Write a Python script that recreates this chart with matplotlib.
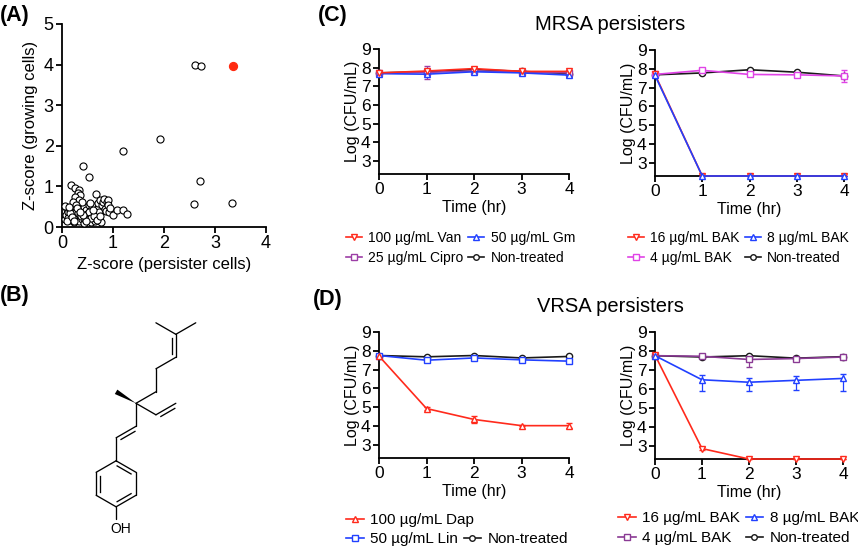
import matplotlib
matplotlib.use('Agg')
import matplotlib.pyplot as plt
import numpy as np
from matplotlib.lines import Line2D
from matplotlib.patches import Polygon

plt.rcParams['font.family'] = ['Liberation Sans', 'DejaVu Sans']

# ---------------- DATA ----------------
# Panel A: Z-scores
cluster_x = [0.05, 0.08, 0.10, 0.12, 0.14, 0.06, 0.15, 0.18, 0.20, 0.22,
             0.24, 0.25, 0.27, 0.28, 0.30, 0.32, 0.33, 0.35, 0.36, 0.38,
             0.40, 0.41, 0.43, 0.44, 0.46, 0.47, 0.49, 0.50, 0.52, 0.53,
             0.55, 0.56, 0.58, 0.59, 0.61, 0.62, 0.64, 0.65, 0.66, 0.68,
             0.70, 0.71, 0.73, 0.75, 0.76, 0.78, 0.80, 0.82, 0.84, 0.86,
             0.88, 0.90, 0.91, 0.93, 0.95, 1.00, 1.07, 1.20, 1.28,
             0.18, 0.26, 0.34, 0.31, 0.36, 0.66, 0.26, 0.34, 0.40, 0.22,
             0.28, 0.12, 0.16, 0.09, 0.20, 0.30, 0.38, 0.45, 0.52, 0.57,
             0.62, 0.68, 0.74, 0.60, 0.48, 0.42, 0.35, 0.23, 0.14, 0.55,
             0.41, 0.53, 1.20, 1.92, 2.60, 2.72, 2.71, 2.58, 3.34]
cluster_y = [0.20, 0.30, 0.45, 0.38, 0.25, 0.52, 0.42, 0.18, 0.33, 0.48,
             0.12, 0.28, 0.40, 0.58, 0.22, 0.35, 0.15, 0.45, 0.30, 0.62,
             0.20, 0.38, 0.50, 0.10, 0.28, 0.42, 0.33, 0.18, 0.55, 0.25,
             0.40, 0.12, 0.30, 0.48, 0.22, 0.38, 0.15, 0.52, 0.30, 0.44,
             0.58, 0.20, 0.36, 0.66, 0.12, 0.54, 0.62, 0.68, 0.45, 0.40,
             0.62, 0.66, 0.54, 0.38, 0.48, 0.30, 0.42, 0.43, 0.33,
             1.03, 0.97, 0.92, 0.83, 0.79, 0.82, 0.74, 0.66, 0.62, 0.62,
             0.55, 0.22, 0.35, 0.15, 0.25, 0.48, 0.28, 0.20, 0.36, 0.22,
             0.28, 0.18, 0.26, 0.42, 0.14, 0.30, 0.38, 0.15, 0.50, 0.60,
             1.50, 1.24, 1.88, 2.17, 3.98, 3.96, 1.13, 0.57, 0.58]
hit_x = [3.36]
hit_y = [3.97]

time = [0, 1, 2, 3, 4]

# Panel C left (MRSA)
mrsa_L_labels = ['100 µg/mL Van', '50 µg/mL Gm', '25 µg/mL Cipro', 'Non-treated']
mrsa_L_van = [7.72, 7.82, 7.95, 7.80, 7.80]
mrsa_L_gm = [7.68, 7.65, 7.78, 7.72, 7.60]
mrsa_L_cipro = [7.70, 7.75, 7.82, 7.78, 7.72]
mrsa_L_nt = [7.72, 7.78, 7.90, 7.80, 7.68]
mrsa_L_van_err = [0.04, 0.06, 0.06, 0.04, 0.05]
mrsa_L_gm_err = [0.03, 0.08, 0.04, 0.04, 0.12]
mrsa_L_cipro_err = [0.03, 0.35, 0.08, 0.05, 0.10]
mrsa_L_nt_err = [0.03, 0.05, 0.05, 0.04, 0.20]

# Panel C right (MRSA, BAK)
mrsa_R_labels = ['16 µg/mL BAK', '8 µg/mL BAK', '4 µg/mL BAK', 'Non-treated']
mrsa_R_16 = [7.70, 2.30, 2.30, 2.30, 2.30]
mrsa_R_8 = [7.65, 2.30, 2.30, 2.30, 2.30]
mrsa_R_4 = [7.70, 7.92, 7.70, 7.68, 7.62]
mrsa_R_nt = [7.68, 7.78, 7.95, 7.82, 7.62]
mrsa_R_4_err = [0.04, 0.06, 0.06, 0.05, 0.30]
mrsa_R_nt_err = [0.03, 0.05, 0.05, 0.04, 0.08]

# Panel D left (VRSA)
vrsa_L_labels = ['100 µg/mL Dap', '50 µg/mL Lin', 'Non-treated']
vrsa_L_dap = [7.72, 4.93, 4.35, 4.02, 4.02]
vrsa_L_lin = [7.75, 7.50, 7.62, 7.52, 7.45]
vrsa_L_nt = [7.75, 7.68, 7.75, 7.62, 7.70]
vrsa_L_dap_lo = [0.05, 0.08, 0.20, 0.04, 0.14]
vrsa_L_dap_hi = [0.05, 0.08, 0.20, 0.04, 0.12]
vrsa_L_lin_err = [0.04, 0.05, 0.05, 0.05, 0.05]
vrsa_L_nt_err = [0.03, 0.04, 0.04, 0.04, 0.04]

# Panel D right (VRSA, BAK)
vrsa_R_labels = ['16 µg/mL BAK', '8 µg/mL BAK', '4 µg/mL BAK', 'Non-treated']
vrsa_R_16 = [7.78, 2.85, 2.30, 2.30, 2.30]
vrsa_R_8 = [7.75, 6.48, 6.35, 6.45, 6.55]
vrsa_R_4 = [7.75, 7.72, 7.55, 7.60, 7.68]
vrsa_R_nt = [7.75, 7.68, 7.75, 7.62, 7.70]
vrsa_R_8_lo = [0.03, 0.58, 0.45, 0.50, 0.65]
vrsa_R_8_hi = [0.03, 0.25, 0.23, 0.25, 0.25]
vrsa_R_4_lo = [0.03, 0.05, 0.42, 0.06, 0.05]
vrsa_R_4_hi = [0.03, 0.05, 0.20, 0.06, 0.05]
vrsa_R_16_err = [0.03, 0.06, 0.0, 0.0, 0.0]
vrsa_R_nt_err = [0.03, 0.04, 0.04, 0.04, 0.04]

x_ticks = [0, 1, 2, 3, 4]
y_ticks = [3, 4, 5, 6, 7, 8, 9]

RED = '#ff2a1c'
BLUE = '#2140ff'
PURPLE = '#9c3ea6'
MAGENTA = '#e043e6'
DPURPLE = '#8a3a94'
BLACK = '#1a1a1a'

# ---------------- FIGURE ----------------
W, H = 858, 551
fig = plt.figure(figsize=(W / 100, H / 100), dpi=100)


def px_axes(x0, y0, x1, y1):
    return fig.add_axes([x0 / W, 1 - y1 / H, (x1 - x0) / W, (y1 - y0) / H])


def style_axes(ax, fs):
    for s in ['top', 'right']:
        ax.spines[s].set_visible(False)
    for s in ['left', 'bottom']:
        ax.spines[s].set_linewidth(1.3)
    ax.tick_params(direction='out', length=4, width=1.3, labelsize=fs, pad=2)


# Panel A
axA = px_axes(62, 24, 266, 227)
axA.scatter(cluster_x, cluster_y, s=26, facecolors='white', edgecolors='black',
            linewidths=0.8, clip_on=False, zorder=3)
axA.scatter(hit_x, hit_y, s=32, color='#ff2a10', edgecolors='#ff2a10', zorder=4, clip_on=False)
axA.set_xlim(0, 4)
axA.set_ylim(0, 5)
axA.set_xticks([0, 1, 2, 3, 4])
axA.set_yticks([0, 1, 2, 3, 4, 5])
style_axes(axA, 13)
axA.set_xlabel('Z-score (persister cells)', fontsize=12, labelpad=3)
axA.set_ylabel('Z-score (growing cells)', fontsize=12, labelpad=4)


def time_plot(ax, series):
    for vals, lo, hi, c, m in series:
        eb = ax.errorbar(time, vals, yerr=[lo, hi], color=c, marker=m, mfc='white', mec=c,
                         ms=4.5, mew=1.0, lw=1.2, capsize=2, elinewidth=0.9, capthick=0.9,
                         zorder=3)
        for child in eb.get_children():
            child.set_clip_on(False)
    ax.set_xlim(0, 4)
    ax.set_ylim(2.3, 9)
    ax.set_xticks(x_ticks)
    ax.set_yticks(y_ticks)
    style_axes(ax, 12.5)
    ax.set_xlabel('Time (hr)', fontsize=11.5, labelpad=2)
    ax.set_ylabel('Log (CFU/mL)', fontsize=11.5, labelpad=1)


def handle(c, m):
    return Line2D([], [], color=c, marker=m, mfc='white', mec=c, ms=4, mew=1.0, lw=1.2)


def legend(handles, labels, x, y, ncol, fs=10):
    lg = fig.legend(handles, labels, loc='upper left', bbox_to_anchor=(x / W, 1 - y / H),
                    ncol=ncol, frameon=False, fontsize=fs, borderpad=0, borderaxespad=0,
                    handlelength=1.15, handletextpad=0.45, columnspacing=0.35,
                    labelspacing=0.42)
    return lg


zero = [0, 0, 0, 0, 0]

# Panel C left
axCL = px_axes(379, 49, 569, 174)
time_plot(axCL, [
    (mrsa_L_nt, mrsa_L_nt_err, mrsa_L_nt_err, BLACK, 'o'),
    (mrsa_L_cipro, mrsa_L_cipro_err, mrsa_L_cipro_err, PURPLE, 's'),
    (mrsa_L_gm, mrsa_L_gm_err, mrsa_L_gm_err, BLUE, '^'),
    (mrsa_L_van, mrsa_L_van_err, mrsa_L_van_err, RED, 'v'),
])
legend([handle(RED, 'v'), handle(PURPLE, 's'), handle(BLUE, '^'), handle(BLACK, 'o')],
       [mrsa_L_labels[0], mrsa_L_labels[2], mrsa_L_labels[1], mrsa_L_labels[3]],
       346, 231, 2)

# Panel C right
axCR = px_axes(655, 50, 844, 176)
time_plot(axCR, [
    (mrsa_R_nt, mrsa_R_nt_err, mrsa_R_nt_err, BLACK, 'o'),
    (mrsa_R_4, mrsa_R_4_err, mrsa_R_4_err, MAGENTA, 's'),
    (mrsa_R_16, zero, zero, RED, 'v'),
    (mrsa_R_8, zero, zero, BLUE, '^'),
])
legend([handle(RED, 'v'), handle(MAGENTA, 's'), handle(BLUE, '^'), handle(BLACK, 'o')],
       [mrsa_R_labels[0], mrsa_R_labels[2], mrsa_R_labels[1], mrsa_R_labels[3]],
       628, 231, 2)

# Panel D left
axDL = px_axes(379, 332, 569, 458)
time_plot(axDL, [
    (vrsa_L_nt, vrsa_L_nt_err, vrsa_L_nt_err, BLACK, 'o'),
    (vrsa_L_lin, vrsa_L_lin_err, vrsa_L_lin_err, BLUE, 's'),
    (vrsa_L_dap, vrsa_L_dap_lo, vrsa_L_dap_hi, RED, '^'),
])
legend([handle(RED, '^')], [vrsa_L_labels[0]], 346, 513, 1, fs=11)
legend([handle(BLUE, 's'), handle(BLACK, 'o')], [vrsa_L_labels[1], vrsa_L_labels[2]],
       346, 532, 2, fs=11)

# Panel D right
axDR = px_axes(655, 332, 843, 459)
time_plot(axDR, [
    (vrsa_R_nt, vrsa_R_nt_err, vrsa_R_nt_err, BLACK, 'o'),
    (vrsa_R_4, vrsa_R_4_lo, vrsa_R_4_hi, DPURPLE, 's'),
    (vrsa_R_16, vrsa_R_16_err, vrsa_R_16_err, RED, 'v'),
    (vrsa_R_8, vrsa_R_8_lo, vrsa_R_8_hi, BLUE, '^'),
])
legend([handle(RED, 'v'), handle(DPURPLE, 's'), handle(BLUE, '^'), handle(BLACK, 'o')],
       [vrsa_R_labels[0], vrsa_R_labels[2], vrsa_R_labels[1], vrsa_R_labels[3]],
       618, 511, 2, fs=11)

# Titles and panel labels
fig.text(610 / W, 1 - 24 / H, 'MRSA persisters', fontsize=14.5, ha='center', va='center')
fig.text(610 / W, 1 - 306 / H, 'VRSA persisters', fontsize=14.5, ha='center', va='center')
for lab, x, y in [('(A)', 0, 15), ('(B)', 0, 295), ('(C)', 318, 15), ('(D)', 313, 300)]:
    fig.text(x / W, 1 - y / H, lab, fontsize=15.5, fontweight='bold', ha='left', va='center')

# Panel B: chemical structure (bakuchiol), bond geometry by angles
bonds = [('Q', 'C1', 30), ('C1', 'C2', 90), ('C2', 'C3', 30), ('C3', 'C4', 90),
         ('C4', 'M1', 150), ('C4', 'M2', 30), ('Q', 'V1', -30), ('V1', 'V2', 30),
         ('Q', 'D1', -90), ('D1', 'D2', -150), ('D2', 'R0', -90), ('R0', 'R1', -30),
         ('R1', 'R2', -90), ('R2', 'R3', -150), ('R3', 'R4', 150), ('R4', 'R5', 90),
         ('R3', 'O', -90), ('Q', 'Me', 150)]
double_bonds = {('C3', 'C4'): 1, ('V1', 'V2'): -1, ('D1', 'D2'): 1,
                ('R0', 'R1'): 0, ('R2', 'R3'): 0, ('R4', 'R5'): 0}

axB = px_axes(60, 290, 230, 540)
axB.set_xlim(-76 / 23, 94 / 23)
axB.set_ylim(-136.7 / 23, 113.3 / 23)
axB.axis('off')

atoms = {'Q': np.array([0.0, 0.0])}
for a, b, ang in bonds:
    atoms[b] = atoms[a] + np.array([np.cos(np.radians(ang)), np.sin(np.radians(ang))])
ring_center = np.mean([atoms['R%d' % i] for i in range(6)], axis=0)
LW = 0.95
for a, b, ang in bonds + [('R5', 'R0', None)]:
    p, q = atoms[a], atoms[b]
    if b == 'Me':
        d = q - p
        n = np.array([-d[1], d[0]])
        axB.add_patch(Polygon([p, q + 0.11 * n, q - 0.11 * n], closed=True, color='black', lw=0))
        continue
    if b == 'O':
        q = p + (q - p) * 0.55
    axB.plot([p[0], q[0]], [p[1], q[1]], color='black', lw=LW, solid_capstyle='round')
    if (a, b) in double_bonds:
        side = double_bonds[(a, b)]
        d = q - p
        n = np.array([-d[1], d[0]])
        if side == 0:
            mid = (p + q) / 2
            n = n if np.dot(ring_center - mid, n) > 0 else -n
        else:
            n = n * side
        off = 0.17
        p2 = p + n * off + d * 0.15
        q2 = q + n * off - d * 0.15
        axB.plot([p2[0], q2[0]], [p2[1], q2[1]], color='black', lw=LW)
o = atoms['O']
axB.text(o[0] + 0.2, o[1] + 0.02, 'OH', fontsize=10, ha='center', va='center')

fig.savefig('out.png', dpi=100)
